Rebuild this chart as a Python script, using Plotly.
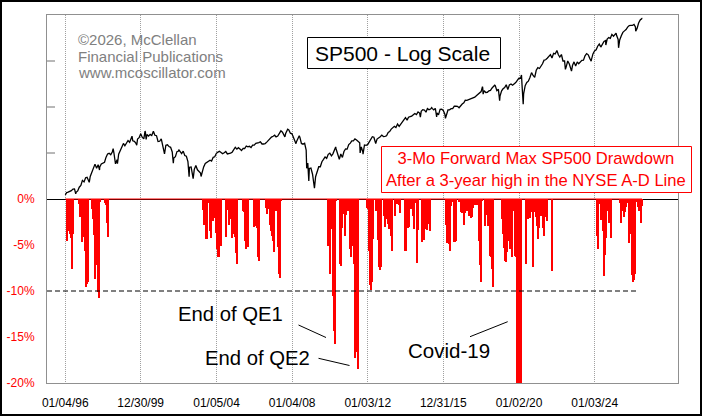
import pandas as pd
import plotly.graph_objects as go

# ---------------- data ----------------
tick_dates = ["1996-01-04", "1999-12-30", "2004-01-05", "2008-01-04",
              "2012-01-03", "2015-12-31", "2020-01-02", "2024-01-03"]
tick_text = ["01/04/96", "12/30/99", "01/05/04", "01/04/08",
             "01/03/12", "12/31/15", "01/02/20", "01/03/24"]

y_tick_vals = [0, -5, -10, -15, -20]
y_tick_text = ["0%", "-5%", "-10%", "-15%", "-20%"]

# SP500 month-end closes, Jan 1996 .. Jun 2026
sp_month_values = [
    636, 640, 645, 654, 669, 671, 639, 652, 687, 705, 757, 741,
    786, 791, 757, 801, 848, 885, 954, 899, 947, 915, 955, 970,
    980, 1049, 1102, 1112, 1091, 1134, 1121, 957, 1017, 1099, 1164, 1229,
    1280, 1238, 1286, 1335, 1302, 1373, 1329, 1320, 1283, 1363, 1389, 1469,
    1394, 1366, 1499, 1452, 1421, 1455, 1431, 1518, 1437, 1429, 1315, 1320,
    1366, 1240, 1160, 1249, 1256, 1224, 1211, 1134, 1041, 1060, 1139, 1148,
    1130, 1107, 1147, 1077, 1067, 990, 912, 916, 815, 886, 936, 880,
    856, 841, 848, 917, 964, 975, 990, 1008, 996, 1051, 1058, 1112,
    1131, 1145, 1126, 1107, 1121, 1141, 1102, 1104, 1115, 1130, 1174, 1212,
    1181, 1204, 1181, 1157, 1192, 1191, 1234, 1220, 1229, 1207, 1249, 1248,
    1280, 1281, 1295, 1311, 1270, 1270, 1277, 1304, 1336, 1378, 1401, 1418,
    1438, 1407, 1421, 1482, 1531, 1503, 1455, 1474, 1527, 1549, 1481, 1468,
    1379, 1331, 1323, 1386, 1400, 1280, 1267, 1283, 1166, 969, 896, 903,
    826, 735, 798, 873, 919, 919, 987, 1021, 1057, 1036, 1096, 1115,
    1074, 1104, 1169, 1187, 1089, 1031, 1102, 1049, 1141, 1183, 1181, 1258,
    1286, 1327, 1326, 1364, 1345, 1321, 1292, 1219, 1131, 1253, 1247, 1258,
    1312, 1366, 1408, 1398, 1310, 1362, 1379, 1407, 1441, 1412, 1416, 1426,
    1498, 1515, 1569, 1598, 1631, 1606, 1686, 1633, 1682, 1757, 1806, 1848,
    1783, 1859, 1872, 1884, 1924, 1960, 1931, 2003, 1972, 2018, 2068, 2059,
    1995, 2105, 2068, 2086, 2107, 2063, 2104, 1972, 1920, 2079, 2080, 2044,
    1940, 1932, 2060, 2065, 2097, 2099, 2174, 2171, 2168, 2126, 2199, 2239,
    2279, 2364, 2363, 2384, 2412, 2423, 2470, 2472, 2519, 2575, 2648, 2674,
    2824, 2714, 2641, 2648, 2705, 2718, 2816, 2902, 2914, 2712, 2760, 2507,
    2704, 2784, 2834, 2946, 2752, 2942, 2980, 2926, 2977, 3038, 3141, 3231,
    3226, 2954, 2585, 2912, 3044, 3100, 3271, 3500, 3363, 3270, 3622, 3756,
    3714, 3811, 3973, 4181, 4204, 4298, 4395, 4523, 4308, 4605, 4567, 4766,
    4516, 4374, 4530, 4132, 4132, 3785, 4130, 3955, 3586, 3872, 4080, 3840,
    4077, 3970, 4109, 4169, 4180, 4450, 4589, 4508, 4288, 4194, 4568, 4770,
    4846, 5096, 5254, 5036, 5278, 5460, 5522, 5648, 5762, 5705, 6032, 5882,
    6041, 5955, 5612, 5569, 5912, 6205, 6339, 6460, 6688, 6840, 6849, 6845,
    6940, 6700, 6550, 7090, 7400, 7540,
]
# intra-month highs / lows
sp_extra_dates = [
    "1996-01-04", "1996-07-24", "1997-04-11", "1997-10-27", "1998-07-17", "1998-08-31",
    "1998-10-08", "1999-07-16", "1999-10-15", "2000-03-24", "2000-04-14", "2000-09-01",
    "2001-04-04", "2001-09-21", "2002-01-04", "2002-07-23", "2002-10-09", "2003-03-11",
    "2007-02-27", "2007-08-16", "2007-10-09", "2008-03-17", "2008-05-19", "2008-10-10",
    "2008-11-20", "2009-03-09", "2010-04-23", "2010-07-02", "2011-04-29", "2011-08-08",
    "2011-10-03", "2012-06-04", "2014-10-15", "2015-05-21", "2015-08-25", "2016-02-11",
    "2018-01-26", "2018-02-08", "2018-09-20", "2018-12-24", "2020-02-19", "2020-03-23",
    "2022-01-03", "2022-06-16", "2022-10-12", "2023-10-27", "2024-08-05", "2025-02-19",
    "2025-04-08", "2026-03-05", "2026-07-03",
]
sp_extra_values = [
    617, 626, 737, 877, 1187, 957,
    959, 1418, 1247, 1527, 1357, 1520,
    1103, 966, 1172, 797, 777, 800,
    1400, 1406, 1565, 1276, 1426, 899,
    752, 677, 1217, 1022, 1364, 1119,
    1099, 1278, 1862, 2131, 1868, 1829,
    2873, 2581, 2931, 2351, 3386, 2237,
    4797, 3667, 3577, 4117, 5186, 6144,
    4983, 6300, 7480,
]

# 3-month forward max drawdown (%), runs of consecutive sample periods
dd_start_dates = ["1996-02-15", "2003-04-26", "2009-12-05",
                  "2016-03-02", "2019-02-17", "2024-02-07"]
dd_run_1 = [-4.6, -3.3, -3.5, -3.8, -4.2, -7.6, -3.8, 0, 0, 0, 0, 0,
            -0.5, -2.0, -1.5, -4.7, -4.1, -2.6, -5.7, -9.6, -9.2, -9.0, 0, 0, 0,
            -1.1, -2.2, -3.9, -8.7, 0, -7.2, -10.1, -10.8, -0.3, 0, 0, 0, 0,
            -0.4, -0.6, -2.6, -4.1]
dd_run_2 = [-1.2, -2.8, -2.7, -4.4, -4.3, -0.2, -0.4, -3.5, -4.2, -2.0, -2.4, -2.1,
            -0.3, -3.7, -5.4, -6.3, -6.3, 0, -5.1, 0, 0, 0, 0, -4.1, 0,
            -1.2, -2.8, -2.2, -1.8, -4.2, -2.3, -3.8, -4.1, -5.9, -7.1, 0, 0, 0, 0, 0,
            -1.3, -1.4, -4.6, -5.4, -0.3, -5.2, 0, 0, 0, 0, 0,
            -3.0, -2.3, -2.9, -3.1, -6.3, -6.7, 0, 0, 0, 0, 0, 0,
            -1.0, -1.6, -0.5, -1.1, -2.8, -3.5, -4.0, -4.6, -5.8, -0.2,
            -1.3, -0.8, -5.2, -8.1, -8.6, -0.2]
dd_run_3 = [-5.1, -5.1, -8.1, -0.1, -3.3, -10.5, -14.4, -15.8, -0.2, 0, 0, 0,
            -7.1, -7.3, -3.1, -1.6, -1.1, -4.0, -1.7, 0, -1.3, -1.3, -5.4, -6.3,
            -5.1, -1.1, -7.1, -17.3, -16.6, 0, -18.5, 0, 0, 0, 0, 0, 0, 0, 0,
            -1.0, -1.1, -5.7, -9.4, -9.9, -9.0, -4.4, -0.1, 0,
            -1.3, -1.3, -4.5, -7.4, -7.7, -7.4, 0, 0,
            -1.8, -3.0, -1.3, -2.2, -2.7, -3.3, -1.8, -4.0, -5.7, 0, 0,
            -1.8, -0.1, -0.5, -0.3, -0.6, -1.5, 0, 0, 0, 0,
            -5.7, -5.7, -1.4, -3.2, -3.0, -1.0, -1.1, -0.6, -1.9, -3.3, 0,
            -0.4, -7.0, -3.4, 0, 0, 0,
            -4.7, -0.3, -4.5, -2.7, -3.3, -3.4, -2.1, -2.7, -3.5]
dd_run_4 = [-2.8, -4.8, -4.7, -4.9, -5.6, -0.8, -0.3, -0.3, -4.7, -4.7, -4.6, 0, 0,
            -0.3, -0.3, -1.4, -1.5, -0.8, -2.8, -1.5, -1.3, -1.3, -0.8, -1.9, -1.0,
            -2.1, -2.0, -1.0, -0.6, -0.3, -0.6, -0.3, -0.6, -4.6, -7.2, -9.0, -0.2,
            0, 0, -2.9, -1.3, -1.7, -2.9, -2.8, -6.2, -6.3, -7.6, -9.6]
dd_run_5 = [-2.2, -3.8, -5.3, -6.7, -6.9, -5.8, -0.2, -4.6, -5.4, -4.2, -6.3, -1.3,
            -0.3, -6.2, -6.3, -34.0, -34.0, -34.0, -34.0, -34.0, 0, 0, 0, 0,
            -7.1, -0.6, -2.2, -0.2, -2.1, -1.4, -0.6, -7.4, -0.4, -1.4, -2.0, -2.9,
            -4.3, -3.1, -1.1, -1.9, -1.3, -3.1, -4.0, -2.0, -1.9, -2.4, 0, 0, 0, 0,
            -7.8]
dd_run_6 = [-4.0, -5.4, -0.3, -0.5, -2.3, -0.3, -3.5, -8.4, -6.1, -4.2, -0.8, -1.3,
            -2.6, -0.3, -4.2, 0, 0, 0, 0, 0, 0, 0, 0,
            -0.4, -2.6, -1.3, -0.9, -2.0, -1.4, -0.9, -0.4, -0.3, -4.8, -0.4, -3.8,
            -8.3, -9.0, -8.8, -8.1, -0.1, -0.3, -0.9, -1.3, -0.3, -2.6, -0.8]
dd_runs = [dd_run_1, dd_run_2, dd_run_3, dd_run_4, dd_run_5, dd_run_6]
sample_days = 19.316          # one sample period of the drawdown series

dd_series_start = "1996-01-04"
dd_series_end = "2026-07-05"
threshold_value = -10
threshold_end = "2026-03-11"

# ---------------- build ----------------
sp_dates = list(pd.date_range("1996-01-31", periods=len(sp_month_values),
                              freq=pd.offsets.MonthEnd()))
sp = pd.DataFrame({"d": sp_dates + list(pd.to_datetime(sp_extra_dates)),
                   "v": sp_month_values + sp_extra_values}).sort_values("d")

bar_x, bar_y = [], []
for start, run in zip(dd_start_dates, dd_runs):
    t0 = pd.Timestamp(start)
    for i, v in enumerate(run):
        bar_x.append(t0 + pd.Timedelta(days=sample_days * i))
        bar_y.append(v)

W, H = 703, 416
L, R, T, B = 47, 678, 15, 383
PW, PH = R - L, B - T


def px(x):
    return (x - L) / PW


def py(y):
    return (B - y) / PH


FONT = "Liberation Sans, Arial, sans-serif"
X_RANGE = ["1995-01-16", "2028-05-30"]

fig = go.Figure()
fig.add_trace(go.Scatter(x=[X_RANGE[0], threshold_end], y=[threshold_value] * 2,
                         mode="lines", line=dict(color="black", width=1, dash="5px,3px"),
                         hoverinfo="skip"))
fig.add_trace(go.Bar(x=bar_x, y=bar_y, width=sample_days * 86400000,
                     marker=dict(color="#ff0000", line=dict(width=0))))
fig.add_trace(go.Scatter(x=[dd_series_start, dd_series_end], y=[0, 0], mode="lines",
                         line=dict(color="#ff0000", width=1)))
fig.add_trace(go.Scatter(x=sp["d"], y=sp["v"], mode="lines", yaxis="y2",
                         line=dict(color="black", width=1.3)))

shapes = [
    dict(type="rect", xref="paper", yref="paper", x0=px(1), x1=px(701), y0=py(1), y1=py(415),
         line=dict(color="black", width=2)),
    dict(type="rect", xref="paper", yref="paper", x0=px(307.5), x1=px(500.5),
         y0=py(37.5), y1=py(68.5), line=dict(color="black", width=1), fillcolor="white"),
    dict(type="rect", xref="paper", yref="paper", x0=px(381.5), x1=px(691.5),
         y0=py(146.5), y1=py(192.5), line=dict(color="#ff0000", width=1), fillcolor="white"),
    dict(type="line", xref="paper", yref="paper", x0=px(298.5), y0=py(325), x1=px(326), y1=py(337.5),
         line=dict(color="black", width=1)),
    dict(type="line", xref="paper", yref="paper", x0=px(318.5), y0=py(358.3), x1=px(349.5), y1=py(365.5),
         line=dict(color="black", width=1)),
    dict(type="line", xref="paper", yref="paper", x0=px(470), y0=py(336.7), x1=px(507.7), y1=py(321.7),
         line=dict(color="black", width=1)),
]
for v in [5, 10, 15]:
    shapes.append(dict(type="line", xref="paper", yref="y", x0=0, x1=8 / PW, y0=v, y1=v,
                       line=dict(color="#707070", width=1)))

annotations = []
for i, txt in enumerate(["©2026, McClellan", "Financial Publications", "www.mcoscillator.com"]):
    annotations.append(dict(xref="paper", yref="paper", x=px(76), y=py(39.5 + 16.7 * i),
                            xanchor="left", yanchor="middle", showarrow=False, text=txt,
                            font=dict(family=FONT, size=15, color="#808080")))
annotations += [
    dict(xref="paper", yref="paper", x=px(403), y=py(53), xanchor="center", yanchor="middle",
         showarrow=False, text="SP500 - Log Scale", font=dict(family=FONT, size=21, color="black")),
    dict(xref="paper", yref="paper", x=px(536), y=py(169), xanchor="center", yanchor="middle",
         showarrow=False, align="center",
         text="3-Mo Forward Max SP500 Drawdown<br>After a 3-year high in the NYSE A-D Line",
         font=dict(family=FONT, size=16.6, color="#ff0000")),
    dict(xref="paper", yref="paper", x=px(176), y=py(314), xanchor="left", yanchor="middle",
         showarrow=False, text="End of QE1", font=dict(family=FONT, size=20.3, color="black")),
    dict(xref="paper", yref="paper", x=px(203), y=py(357.5), xanchor="left", yanchor="middle",
         showarrow=False, text="End of QE2", font=dict(family=FONT, size=20.3, color="black")),
    dict(xref="paper", yref="paper", x=px(406), y=py(350), xanchor="left", yanchor="middle",
         showarrow=False, text="Covid-19", font=dict(family=FONT, size=20.5, color="black")),
]

fig.update_layout(
    width=W, height=H, autosize=False,
    margin=dict(l=L, r=W - R, t=T, b=H - B, pad=0),
    paper_bgcolor="white", plot_bgcolor="white",
    showlegend=False, bargap=0,
    font=dict(family=FONT, size=12, color="black"),
    xaxis=dict(type="date", range=X_RANGE, tickvals=tick_dates, ticktext=tick_text,
               showgrid=True, gridcolor="#a0a0a0", griddash="1px,1px", gridwidth=1,
               ticks="outside", ticklen=9, tickcolor="rgba(0,0,0,0)",
               tickfont=dict(family=FONT, size=12, color="black"),
               showline=True, linecolor="#909090", linewidth=1, mirror=True,
               zeroline=False, fixedrange=True, automargin=False),
    yaxis=dict(range=[-20, 20], tickvals=y_tick_vals, ticktext=y_tick_text,
               ticks="outside", ticklen=9, tickcolor="rgba(0,0,0,0)",
               tickfont=dict(family=FONT, size=12, color="#ff0000"),
               showgrid=False, zeroline=True, zerolinecolor="black", zerolinewidth=1,
               showline=True, linecolor="#909090", linewidth=1, mirror=True,
               fixedrange=True, automargin=False),
    yaxis2=dict(type="log", range=[1.6284, 3.9000], overlaying="y", side="right",
                showticklabels=False, showgrid=False, zeroline=False, showline=False,
                ticks="", fixedrange=True, automargin=False),
    shapes=shapes,
    annotations=annotations,
)

fig.write_html("out.html")
